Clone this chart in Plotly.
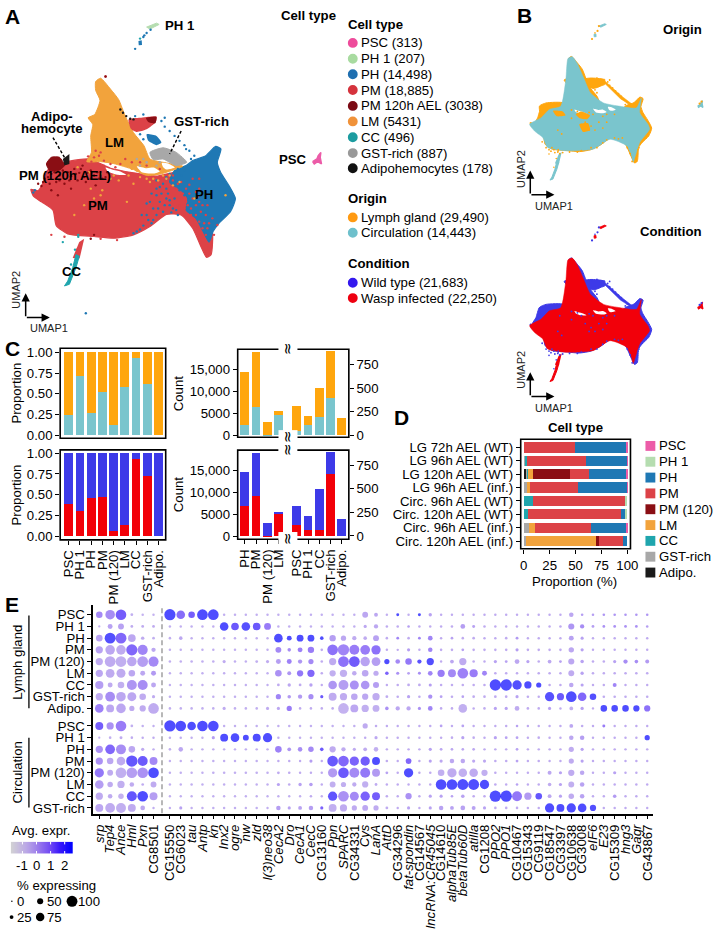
import plotly.graph_objects as go
import numpy as np

W, H = 722, 933
FONT = "Liberation Sans"

# ---------- Panel A/B : UMAP outlines (UMAP units x100) ----------
PM_OUT = [(88,562),(110,566),(128,535),(138,505),(200,478),(265,470),(330,498),(400,512),(470,522),(540,510),(600,590),(640,690),(636,760),(622,768),(605,735),(580,680),(545,640),(500,638),(450,675),(400,700),(340,710),(280,705),(200,697),(165,672),(155,625),(120,600),(95,582)]
PH_OUT = [(525,505),(560,490),(580,475),(620,460),(650,432),(666,440),(655,480),(665,510),(690,550),(710,590),(695,630),(660,665),(642,690),(630,722),(612,690),(590,650),(560,625),(565,590),(545,565),(510,540)]
LM_OUT = [(300,225),(285,235),(285,262),(298,292),(282,335),(262,345),(276,365),(270,400),(272,450),(258,478),(300,478),(340,484),(400,502),(440,520),(480,516),(525,502),(550,492),(500,482),(450,470),(432,430),(400,390),(375,340),(355,290),(330,258)]
HOLE_1 = [(410,492),(440,498),(462,496),(480,508),(462,514),(425,510)]
HOLE_2 = [(486,482),(505,484),(526,496),(500,502),(490,494)]
HOLE_3 = [(315,496),(335,502),(360,508),(378,518),(350,518),(322,508)]
UPPER_OUT = [(385,350),(420,345),(470,342),(468,358),(440,380),(410,388),(392,378)]
UPPER_DK = [(438,346),(470,342),(466,362),(445,358)]
BRANCH_OUT = [(440,395),(470,400),(485,420),(470,428),(445,415)]
PM120_OUT = [(135,485),(150,465),(175,465),(190,490),(172,505),(145,505)]
GST_OUT = [(450,450),(490,436),(530,450),(562,480),(530,490),(490,470),(460,472)]
ADIPO_OUT = [(185,470),(205,455),(205,485),(190,490)]
CCRED_OUT = [(215,770),(235,722),(250,712),(236,772)]
CC_OUT = [(190,855),(200,840),(215,800),(225,760),(235,765),(225,800),(205,850)]
PH1_OUT = [(440,70),(470,58),(478,62),(450,76)]
PH1B_OUT = [(415,112),(425,110),(426,124),(416,125)]
PSC_OUT = [(945,478),(958,470),(962,460),(970,450),(968,465),(972,485),(960,478),(950,485)]
CORE_OUT = [(86,571),(145,537),(187,495),(245,479),(271,344),(282,235),(304,226),(329,260),(363,336),(397,411),(464,462),(548,479),(632,487),(657,437),(649,512),(691,571),(699,596),(649,663),(615,764),(607,731),(582,680),(497,647),(413,697),(279,706),(178,689),(153,638),(111,605)]
BAND_B = [(368,340),(400,335),(462,342),(472,366),(430,380),(395,380)]
TAIL_B = [(470,350),(560,430),(612,470),(606,476),(550,440),(470,362)]
BLOB_B = [(136,478),(170,462),(260,462),(262,500),(190,520),(145,530)]
LEFT_COND = [(100,560),(118,530),(136,478),(170,480),(150,540)]
PATCH_1 = [(322,520),(350,506),(395,526),(380,545),(342,540)]
PATCH_2 = [(340,570),(385,565),(395,600),(360,610)]
PATCH_3 = [(205,502),(255,505),(270,525),(225,530)]

SP_RED = [(530,560),(545,590),(510,560),(560,600),(575,620),(590,640),(600,660),(610,680),(585,655),(620,700),(555,620),(540,610),(620,640),(580,590),(600,560),(250,480),(262,462),(272,478),(310,490),(360,485),(345,495),(420,480),(470,525),(520,520),(150,700),(190,706),(300,712),(350,716),(238,738),(228,745),(315,220),(600,600),(560,560),
          (570,575),(590,610),(605,630),(615,665),(625,680),(575,640),(565,610),(550,575),(535,545),(595,585),(610,610),(630,665),(640,650),(595,675),(606,700),(628,740),(645,700),(655,670),(520,535),(545,540),(570,548),(590,570),(625,610),(580,530),(600,530),(280,465),(295,460),(310,475),(330,485),(375,470),(300,450),(285,445),(395,480),(440,490),(480,500)]
SP_BLUE = [(460,620),(480,600),(500,590),(470,580),(450,600),(520,620),(490,630),(510,610),(530,625),(440,640),(430,672),(420,684),(460,655),(500,560),(480,555),(520,545),(405,340),(430,335),(485,355),(495,372),(510,385),(525,400),(540,415),(555,428),(570,445),(585,460),(560,440),(575,470),(495,345),(420,395),(430,410),(255,938),(100,565),(95,572),(405,136),(433,95),(440,88),(430,100),(452,78),
           (490,545),(505,575),(525,590),(535,640),(515,632),(470,640),(455,665),(445,655),(475,620),(495,610),(510,595),(485,575),(470,560),(455,575),(440,605),(425,640),(540,565),(530,540),(500,530),(515,525),(470,535),(555,580),(400,695),(410,690),(500,525),(545,520),(555,505),(510,515),(535,500)]
SP_LM = [(250,610),(270,560),(300,580),(380,600),(500,530),(520,550),(680,580),(585,590),(340,520),(410,505),(460,530),(395,500),(440,530),(220,640),(330,530),(355,535),(385,520),(420,525),(400,545),(450,540),(475,535),(540,540),(265,510),(300,515),(230,495),(490,520),(510,520),(305,565),(280,590)]
SP_DK = [(150,515),(175,520),(200,510),(225,515),(250,525),(280,520),(305,530),(320,510),(165,540),(130,530),(110,545),(190,545),(240,500),(270,505),(210,560),(150,565),(170,580),(285,550),(315,220),(280,700),(270,712),
         (160,510),(185,505),(210,522),(235,512),(260,512),(290,510),(295,530),(175,535),(205,535),(230,535),(255,540),(140,525),(125,540),(120,552),(315,525),(270,530),(145,545),(220,500),(245,490)]
SP_BLACK = [(360,320),(368,330),(378,340),(390,348),(400,350)]
SP_GST = [(420,490),(440,480),(520,470),(410,470),(470,490),(480,480),(430,470)]
SP_TEAL = [(185,722),(232,706),(222,745),(210,790),(232,700),(420,105)]

# Panel B speckles
SP_B_IN = [(300,498),(330,505),(350,520),(390,510),(410,520),(240,520),(460,530),(400,580),(420,600),(440,560),(370,560),(390,600),(300,540),(460,590),(480,560),(230,600),(250,620),(200,690),(210,700),(230,712),(240,720),(255,715),(330,712),(430,690),(520,640),(560,640),(640,700),(660,660),(690,620),(480,520),(520,520),
           (150,660),(170,690),(185,700),(195,708),(215,715),(290,712),(350,705),(400,690),(460,665),(480,650),(540,645),(585,690),(600,720),(610,760),(630,745),(645,690),(680,640),(700,610)]

# ---------- Panel C ----------
C_TYPES = ["PSC", "PH 1", "PH", "PM", "PM (120)", "LM", "CC", "GST-rich", "Adipo."]
PROP_CIRC = [0.24, 0.71, 0.27, 0.52, 0.12, 0.585, 0.93, 0.62, 0.0]
PROP_LG = [0.76, 0.29, 0.73, 0.48, 0.88, 0.415, 0.07, 0.38, 1.0]
PROP_WASP = [0.385, 0.30, 0.465, 0.475, 0.06, 0.135, 0.935, 0.73, 0.0]
PROP_WT = [0.615, 0.70, 0.535, 0.525, 0.94, 0.865, 0.065, 0.27, 1.0]
CL_TYPES = ["PH", "PM", "PM (120)", "LM"]
CR_TYPES = ["PSC", "PH 1", "CC", "GST-rich", "Adipo."]
CL_CIRC = [2240, 6430, 100, 4650]
CL_LG = [12258, 12455, 2938, 781]
CL_WASP = [6800, 9040, 100, 5080]
CL_WT = [7698, 9845, 2938, 351]
CR_CIRC = [42, 105, 197, 390, 0]
CR_LG = [271, 102, 299, 497, 178]
CR_WASP = [119, 63, 67, 654, 0]
CR_WT = [194, 144, 429, 233, 178]

# ---------- Panel D ----------
D_ROWS = ["LG 72h AEL (WT)", "LG 96h AEL (WT)", "LG 120h AEL (WT)", "LG 96h AEL (inf.)", "Circ. 96h AEL (WT)", "Circ. 120h AEL (WT)", "Circ. 96h AEL (inf.)", "Circ. 120h AEL (inf.)"]
D_ADIPO = [0, 0, 2.5, 0, 0, 0, 0, 0]
D_GST = [0.5, 1.5, 1, 3, 0, 0, 5, 2]
D_CC = [0, 2, 1, 0, 9, 4.5, 0, 0]
D_LM = [0, 0, 4.5, 3.5, 0, 0, 6, 68]
D_PM120 = [0, 0, 36, 0, 0, 0, 0, 3]
D_PM = [49, 56.5, 18, 45.5, 88.5, 89.5, 54, 23]
D_PH = [49, 39.5, 36, 47.5, 0, 4, 34, 4]
D_PH1 = [0, 0.2, 0, 0, 2.5, 2, 0, 0]
D_PSC = [1.5, 0.3, 1, 0.5, 0, 0, 1, 0]

# ---------- Panel E ----------
GENES_A = ["srp", "Tep4", "Ance", "Hml", "Pxn", "CG8501"]
GENES_B = ["CG15550","CG6023","tau","Antp","kn","Inx2","ogre","nw","zld","l(3)neo38","CecA2","Dro","CecA1","CecC","CG13160","Ppn","SPARC","CG34331","Cys","LanA","AttD","CG34296","fat-spondin","CG14567","lncRNA:CR45045","CG14610","alphaTub85E","betaTub60D","atilla","CG1208","PPO2","PPO1","CG10467","CG15343","CG9119","CG18547","CG3397","CG10638","CG3008","eIF6","E23","CG15309","hng3","Gagr","CG43867"]
ROWS_E = ["PSC","PH 1","PH","PM","PM (120)","LM","CC","GST-rich","Adipo.","PSC","PH 1","PH","PM","PM (120)","LM","CC","GST-rich"]

P_LG_PSC = [47,78,89,8,5,5, 95,68,47,90,90,5,5,5,5,5, 5,5,5,5,5,5,5,5,40,19, 5,9,5,10,14,5,5,5,5,5, 5,5,5,5,5,5,5,26,6,6, 6,6,6,6,6]
E_LG_PSC = [.7,.6,1.6,-.2,-.3,-.3, 2.5,1.3,1.6,2.5,2.5,-.2,-.2,-.2,-.2,-.2, -.2,-.2,-.2,-.2,-.2,-.2,-.2,-.2,0,0, -.2,2.5,-.2,2.5,.1,-.1,-.1,-.1,-.1,-.1, -.1,-.1,-.1,-.1,-.1,-.1,-.1,0,.2,.2, .4,.4,.4,.4,.4]
P_LG_PH1 = [3,30,40,8,8,8, 5,5,5,5,5,68,58,68,58,50, 5,5,5,5,5,5,5,5,12,24, 6,6,6,5,5,5,6,28,9,6, 5,5,5,5,5,5,6,42,24,8, 8,8,8,8,6]
E_LG_PH1 = [-.3,.1,.1,-.1,-.1,-.1, -.2,-.2,-.2,-.2,-.2,2.5,1.8,2.3,1.8,1, -.2,-.2,-.2,-.2,-.2,-.2,-.2,-.2,0,0, -.1,-.1,.2,-.1,-.1,-.1,-.1,.2,.1,-.1, -.1,-.1,-.1,-.1,-.1,-.1,-.1,.4,.6,.2, .5,.5,.5,.5,.2]
P_LG_PH = [47,92,92,58,15,7, 6,16,5,5,5,5,5,5,5,5, 68,30,50,50,16,45,33,24,16,40, 6,8,6,8,28,5,7,6,7,5, 5,6,9,5,5,5,5,30,12,5, 5,5,5,5,5]
E_LG_PH = [.1,2.4,1.4,0,-.1,-.2, -.2,0,-.2,-.2,-.2,-.2,-.2,-.2,-.2,-.2, 2.5,2.5,2.5,2.5,2.5,.2,0,-.1,-.1,.1, -.1,.8,-.1,.8,.8,-.1,.1,-.1,-.1,-.1, -.1,-.1,.3,-.1,-.1,-.1,-.1,.1,.1,-.1, -.1,-.1,-.1,-.1,-.1]
P_LG_PM = [54,78,78,95,84,24, 5,5,5,5,5,5,5,5,5,5, 40,16,30,45,6,89,96,82,80,75, 5,4,12,5,26,6,6,8,6,6, 6,6,12,6,6,6,6,35,12,5, 5,5,5,5,5]
E_LG_PM = [.1,0,-.1,1.4,.8,0, -.2,-.2,-.2,-.2,-.2,-.2,-.2,-.2,-.2,-.2, .7,.6,.9,1,-.1,1.2,.8,1,1,1.2, -.1,-.1,.2,-.1,.8,-.1,-.1,.1,-.1,-.1, -.1,-.1,.2,-.1,-.1,-.1,-.1,0,.1,-.1, -.1,-.1,-.1,-.1,-.1]
P_LG_PM120 = [54,90,90,78,90,84, 6,6,6,6,6,12,6,5,8,12, 30,30,24,33,6,54,90,90,76,70, 33,27,47,24,54,4,18,54,6,5, 12,8,28,12,6,18,8,42,15,6, 6,12,24,17,20]
E_LG_PM120 = [-.1,-.1,-.2,0,.2,.7, -.2,-.2,-.2,-.2,-.2,-.1,-.2,-.2,-.2,-.1, .2,.9,.4,.7,-.1,-.1,1.2,1.7,.1,.2, 2.5,.7,1.1,2.2,2.4,-.1,0,-.1,-.1,-.1, .1,.1,0,.1,-.1,0,.1,0,.1,-.1, -.1,.1,.6,.6,.3]
P_LG_LM = [54,70,72,47,30,30, 5,5,5,5,5,5,5,5,5,5, 47,20,44,54,6,44,54,26,47,33, 16,12,8,10,28,54,61,89,64,30, 6,6,6,6,6,6,6,40,14,6, 6,6,6,6,6]
E_LG_LM = [0,-.1,-.1,0,0,.3, -.2,-.2,-.2,-.2,-.2,-.2,-.2,-.2,-.2,-.2, .5,.4,1.1,1.4,-.1,-.2,-.2,-.1,0,-.1, 1.5,.5,.1,.6,.8,1,.7,.9,1,.8, -.1,-.1,-.1,-.1,-.1,-.1,-.1,-.1,.1,-.1, -.1,-.1,-.1,-.1,-.1]
P_LG_CC = [64,30,47,82,82,30, 5,5,5,5,5,5,5,5,5,5, 8,14,8,14,5,68,82,72,68,42, 5,6,8,8,12,6,6,6,6,6, 96,96,76,54,33,6,6,26,12,5, 5,20,5,5,5]
E_LG_CC = [.2,-.1,-.2,.4,.6,0, -.2,-.2,-.2,-.2,-.2,-.2,-.2,-.2,-.2,-.2, -.1,0,-.1,.1,-.1,.4,.2,.5,.4,.2, -.1,-.1,-.1,-.1,.2,-.1,-.1,-.1,-.1,-.1, 2.5,2.5,2.4,2.5,2.5,-.1,-.1,0,.1,-.1, -.1,.8,-.1,-.1,-.1]
P_LG_GST = [54,80,78,72,47,12, 5,5,5,5,5,5,5,5,5,5, 33,16,24,33,12,61,54,47,44,54, 8,6,12,6,24,8,6,7,7,7, 7,7,12,6,5,75,54,89,68,47, 6,6,6,6,6]
E_LG_GST = [-.1,.6,0,0,-.1,-.1, -.2,-.2,-.2,-.2,-.2,-.2,-.2,-.2,-.2,-.2, .8,.3,.3,.6,1.8,-.1,-.1,0,0,-.1, -.1,-.1,.1,-.1,.5,.1,-.1,.1,-.1,-.1, -.1,-.1,.1,-.1,-.1,2.3,1.8,2.5,1.4,2.4, -.1,-.1,-.1,-.1,-.1]
P_LG_ADIPO = [68,61,78,33,44,89, 6,6,6,6,6,12,6,6,6,12, 12,33,6,6,6,6,89,61,54,50, 16,24,24,12,28,6,6,68,5,6, 12,12,28,7,6,12,5,18,14,4, 47,47,47,44,44]
E_LG_ADIPO = [.9,0,0,-.1,-.1,-.1, -.2,-.2,-.2,-.2,-.2,-.1,-.2,-.2,-.2,-.1, 0,1,-.1,-.1,-.1,-.1,-.3,0,-.2,-.2, .5,0,0,.5,.8,-.1,-.1,-.2,-.1,-.1, .1,.1,-.1,-.1,-.1,.1,-.1,-.2,.1,-.1, 2.5,2.5,2.5,2.5,1.2]
P_C_PSC = [61,54,89,7,5,5, 96,89,68,89,89,5,5,5,5,5, 5,5,5,5,5,5,5,5,33,6, 5,5,5,5,5,8,5,8,5,5, 5,5,6,5,5,5,5,19,6,5, 10,5,5,5,5]
E_C_PSC = [1.6,.5,1,-.2,-.2,-.2, 2.5,2.5,2.5,2.5,2.5,-.2,-.2,-.2,-.2,-.2, -.2,-.2,-.2,-.2,-.2,-.2,-.2,-.2,-.1,-.1, -.1,-.1,-.1,-.1,-.1,.1,-.1,.1,-.1,-.1, -.1,-.1,.1,-.1,-.1,-.1,-.1,0,-.1,-.1, 1,-.1,-.1,-.1,-.1]
P_C_PH1 = [2,6,10,6,5,5, 5,5,5,5,12,61,68,40,61,75, 5,5,5,5,5,5,5,5,5,12, 5,5,5,5,5,5,6,12,6,5, 12,8,8,5,6,5,5,26,26,5, 5,5,5,5,33]
E_C_PH1 = [-.3,-.2,-.1,-.1,-.1,-.1, -.2,-.2,-.2,-.2,.2,2.5,2.5,2.5,2.5,2.5, -.2,-.2,-.2,-.2,-.2,-.2,-.2,-.2,-.1,0, -.1,-.1,-.1,-.1,-.1,-.1,-.1,.1,-.1,-.1, .1,.1,.1,-.1,-.1,-.1,-.1,0,.2,-.1, -.1,-.1,-.1,-.1,2.5]
P_C_PH = [54,80,82,47,12,5, 6,26,5,5,5,5,5,5,5,5, 47,18,26,36,16,44,24,12,18,26, 5,5,5,5,12,8,7,7,7,5, 5,5,7,5,5,5,5,33,12,5, 5,5,5,5,5]
E_C_PH = [.5,1.4,.6,0,-.1,-.2, -.2,0,-.2,-.2,-.2,-.2,-.2,-.2,-.2,-.2, .9,.4,.6,.7,1.8,-.1,-.1,-.1,-.1,-.2, -.1,-.1,-.1,-.1,.1,0,0,0,0,-.1, -.1,-.1,.1,-.1,-.1,-.1,-.1,-.1,.1,-.1, -.1,-.1,-.1,-.1,-.1]
P_C_PM = [54,47,68,96,82,61, 5,5,5,5,5,5,5,5,5,5, 5,5,5,12,5,89,89,75,75,61, 6,5,40,5,12,12,26,26,12,12, 6,6,8,5,6,5,5,33,12,5, 5,5,5,5,5]
E_C_PM = [.5,0,-.1,2,1.8,.7, -.2,-.2,-.2,-.2,-.2,-.2,-.2,-.2,-.2,-.2, -.1,-.1,-.1,.2,-.1,1.9,1.4,1.5,1.7,2.5, -.1,-.1,1.4,-.1,.1,0,0,0,0,0, -.1,-.1,.1,-.1,-.1,-.1,-.1,-.1,.1,-.1, -.1,-.1,-.1,-.1,-.1]
P_C_PM120 = [75,40,89,89,89,89, 5,5,5,5,6,6,6,6,6,6, 8,6,5,5,5,75,89,82,82,61, 8,5,75,5,6,47,75,68,68,44, 6,5,5,5,5,20,12,44,26,5, 5,12,5,5,5]
E_C_PM120 = [1.1,-.1,-.2,.2,.5,2.5, -.2,-.2,-.2,-.2,-.2,-.2,-.2,-.2,-.2,-.2, -.1,-.1,-.1,-.1,-.1,.3,1.8,.7,1.1,.3, .1,-.1,2.5,-.1,-.1,-.2,-.1,-.2,-.1,-.2, -.1,-.1,-.1,-.1,-.1,0,.1,-.1,0,-.1, -.1,.1,-.1,-.1,-.1]
P_C_LM = [68,36,54,26,7,40, 5,5,5,5,5,5,5,5,5,5, 12,6,14,16,5,40,33,24,44,8, 5,5,5,5,5,89,89,92,92,75, 6,5,6,5,5,16,12,40,26,5, 5,5,5,5,5]
E_C_LM = [.2,-.1,-.2,-.1,-.1,-.1, -.2,-.2,-.2,-.2,-.2,-.2,-.2,-.2,-.2,-.2, .1,-.1,.1,.2,-.1,-.2,-.2,-.1,-.2,-.1, -.1,-.1,-.1,-.1,-.1,2.5,2.5,2.5,2.5,2.5, -.1,-.1,.1,-.1,-.1,-.1,.1,-.2,.1,-.1, -.1,-.1,-.1,-.1,-.1]
P_C_CC = [54,26,36,82,89,61, 4,4,4,4,4,4,4,4,4,4, 4,4,4,6,4,75,89,72,75,61, 6,5,44,5,12,12,6,16,6,6, 96,96,82,54,47,19,12,36,26,5, 5,16,5,5,5]
E_C_CC = [-.1,-.1,-.3,2,2.5,.2, -.2,-.2,-.2,-.2,-.2,-.2,-.2,-.2,-.2,-.2, -.2,-.2,-.2,-.1,-.2,2.1,.5,.7,1.5,1.6, -.1,-.1,.5,-.1,.1,.1,.1,.1,-.1,-.1, 2.5,2.5,1.1,.3,2,0,.1,-.1,.1,-.1, -.1,.3,-.1,-.1,-.1]
P_C_GST = [61,80,82,61,28,5, 5,12,5,5,5,5,5,5,5,5, 26,12,19,26,12,61,54,33,40,33, 8,5,12,5,12,26,19,28,20,12, 6,6,6,5,5,75,61,75,68,44, 5,5,5,5,5]
E_C_GST = [0,-.1,-.2,-.1,0,-.2, -.2,.1,-.2,-.2,-.2,-.2,-.2,-.2,-.2,-.2, .2,.1,.1,.2,1.5,-.2,-.1,-.1,0,-.1, -.1,-.1,.1,-.1,.1,.1,.1,.1,.1,.1, -.1,-.1,-.1,-.1,-.1,2.5,2.5,2.5,2.5,2.4, -.1,-.1,-.1,-.1,-.1]

PCT_ROWS = [P_LG_PSC,P_LG_PH1,P_LG_PH,P_LG_PM,P_LG_PM120,P_LG_LM,P_LG_CC,P_LG_GST,P_LG_ADIPO,P_C_PSC,P_C_PH1,P_C_PH,P_C_PM,P_C_PM120,P_C_LM,P_C_CC,P_C_GST]
EXP_ROWS = [E_LG_PSC,E_LG_PH1,E_LG_PH,E_LG_PM,E_LG_PM120,E_LG_LM,E_LG_CC,E_LG_GST,E_LG_ADIPO,E_C_PSC,E_C_PH1,E_C_PH,E_C_PM,E_C_PM120,E_C_LM,E_C_CC,E_C_GST]

# ---------- Legends ----------
CELL_LEG = ["PSC (313)", "PH 1 (207)", "PH (14,498)", "PM (18,885)", "PM 120h AEL (3038)", "LM (5431)", "CC (496)", "GST-rich (887)", "Adipohemocytes (178)"]
ORIGIN_LEG = ["Lymph gland (29,490)", "Circulation (14,443)"]
COND_LEG = ["Wild type (21,683)", "Wasp infected (22,250)"]
D_LEG = ["PSC", "PH 1", "PH", "PM", "PM (120)", "LM", "CC", "GST-rich", "Adipo."]

# colours
PSC_C, PH1_C, PH_C, PM_C, PM120_C, LM_C, CC_C, GST_C, AD_C = "#EC5CA8", "#B5DDB0", "#1F78B4", "#DC4247", "#8A0E14", "#F2A33C", "#1FA5AD", "#A8A8A8", "#1A1A1A"
ORANGE, TEAL, BLUE, RED = "#FFA60D", "#7AC5CD", "#3D3AE8", "#F20008"
LEG_COLS = ["#EE4B9B", "#A8DBA0", "#1F6FB0", "#D5333D", "#7B0A14", "#F0923A", "#1C9CA0", "#999999", "#111111"]
EXPR_SCALE = [[0, "#D3D3D3"], [.25, "#BBA8E6"], [.39, "#A488EA"], [.5, "#8D6AEE"], [.64, "#6E46F4"], [.78, "#3A18FA"], [1, "#0000FF"]]

# ---------- helpers ----------
def px(x): return x / W
def py(y): return 1 - y / H
def dx(a, b): return [a / W, b / W]
def dy(a, b): return [1 - b / H, 1 - a / H]

fig = go.Figure()
annots, shapes, layout = [], [], {}

def txt(x, y, s, size=13.2, bold=False, anchor="left", angle=0, color="#000"):
    if bold: s = f"<b>{s}</b>"
    annots.append(dict(x=px(x), y=py(y), xref="paper", yref="paper", text=s, showarrow=False, xanchor=anchor, yanchor="middle",
                       textangle=angle, font=dict(size=size, color=color, family=FONT), borderpad=0, borderwidth=0))

def circle(x, y, d, c):
    shapes.append(dict(type="circle", xref="paper", yref="paper", x0=px(x-d/2), x1=px(x+d/2), y0=py(y+d/2), y1=py(y-d/2), fillcolor=c, line=dict(width=0)))

def rect(x0, y0, x1, y1, fill="rgba(0,0,0,0)", lw=1.6, lc="#000"):
    shapes.append(dict(type="rect", xref="paper", yref="paper", x0=px(x0), x1=px(x1), y0=py(y1), y1=py(y0), fillcolor=fill, line=dict(width=lw, color=lc), layer="above"))

def arrow(x0, y0, x1, y1):
    annots.append(dict(x=px(x1), y=py(y1), xref="paper", yref="paper", axref="pixel", ayref="pixel", ax=x0-x1, ay=y0-y1, text="", showarrow=True,
                       arrowhead=2, arrowsize=1.1, arrowwidth=1.5, arrowcolor="#000", standoff=0))

def poly(pts, c, xa, ya, line=0, smooth=False):
    ln = dict(color=c, width=line)
    if smooth:
        ln.update(shape="spline", smoothing=0.55)
    fig.add_trace(go.Scatter(x=[p[0] for p in pts]+[pts[0][0]], y=[p[1] for p in pts]+[pts[0][1]], mode="lines", fill="toself", fillcolor=c,
                             line=ln, xaxis=xa, yaxis=ya, hoverinfo="skip", showlegend=False))

def dots(pts, c, xa, ya, s=2.4):
    fig.add_trace(go.Scatter(x=[p[0] for p in pts], y=[p[1] for p in pts], mode="markers", marker=dict(size=s, color=c, line=dict(width=0)),
                             xaxis=xa, yaxis=ya, hoverinfo="skip", showlegend=False))

def axis(dom, rng, anchor, **kw):
    d = dict(domain=dom, range=rng, anchor=anchor, showgrid=False, zeroline=False, showline=False, ticks="", showticklabels=False,
             tickfont=dict(size=13.2, family=FONT, color="#000"), tickcolor="#000", ticklen=4, tickwidth=1.3, linecolor="#000", linewidth=1.6)
    d.update(kw)
    return d

def umap_axes(n, x0, y0, scale):
    s = "" if n == 1 else str(n)
    layout[f"xaxis{s}"] = axis(dx(x0, x0+340*scale), [0, 1020], f"y{s}", visible=False)
    layout[f"yaxis{s}"] = axis(dy(y0, y0+320*scale), [960, 0], f"x{s}", visible=False)
    return f"x{s}", f"y{s}"

# ---------- A ----------
xa, ya = umap_axes(1, 0, 0, 1)
poly(PM_OUT, PM_C, xa, ya, 1.2, True)
poly(PH_OUT, PH_C, xa, ya, 1.2, True)
poly(LM_OUT, LM_C, xa, ya, 1, True)
for h in (HOLE_1, HOLE_2, HOLE_3):
    poly(h, "#FFFFFF", xa, ya, 0, True)
poly(UPPER_OUT, PM_C, xa, ya, 0, True)
poly(UPPER_DK, PM120_C, xa, ya, 0, True)
poly(BRANCH_OUT, PH_C, xa, ya, 0, True)
poly(CCRED_OUT, PM_C, xa, ya)
poly(PM120_OUT, PM120_C, xa, ya, 1, True)
poly(GST_OUT, GST_C, xa, ya, 1, True)
poly(ADIPO_OUT, AD_C, xa, ya)
poly(CC_OUT, CC_C, xa, ya, 1)
poly(PH1_OUT, PH1_C, xa, ya, 1)
poly(PH1B_OUT, PH_C, xa, ya)
poly(PSC_OUT, PSC_C, xa, ya, 1.5)
dots(SP_RED, PM_C, xa, ya); dots(SP_BLUE, PH_C, xa, ya); dots(SP_LM, LM_C, xa, ya)
dots(SP_DK, PM120_C, xa, ya); dots(SP_BLACK, AD_C, xa, ya); dots(SP_GST, GST_C, xa, ya); dots(SP_TEAL, CC_C, xa, ya)
for a, b in (((155,405),(190,465)), ((545,385),(510,455))):
    fig.add_trace(go.Scatter(x=[a[0], b[0]], y=[a[1], b[1]], mode="lines", line=dict(color="#000", width=1.4, dash="3px,2px"), xaxis=xa, yaxis=ya, hoverinfo="skip", showlegend=False))

# ---------- B ----------
def umap_b(n, y0, core, fringe, extra, inner):
    xb, yb = umap_axes(n, 518, y0, 0.595)
    for p in (PM_OUT, PH_OUT, LM_OUT, UPPER_OUT, BAND_B, BLOB_B) + extra:
        poly(p, fringe, xb, yb, 1.0, True)
    poly(TAIL_B, fringe, xb, yb, 0.6)
    poly(CORE_OUT, core, xb, yb, 0.5, True)
    for h in (HOLE_1, HOLE_2, HOLE_3):
        poly(h, "#FFFFFF", xb, yb, 0, True)
    for p in inner:
        poly(p, fringe, xb, yb, 0, True)
    poly(CC_OUT, core, xb, yb, 1); poly(CCRED_OUT, core, xb, yb)
    poly(PH1_OUT, core, xb, yb, 0.8); poly(PH1B_OUT, core, xb, yb, 0.8); poly(PSC_OUT, core, xb, yb, 1.2)
    dots(SP_B_IN + SP_BLUE[16:31], fringe, xb, yb, 1.8)
    dots(SP_TEAL, fringe, xb, yb, 1.6)
    dots([(955,465),(965,455),(440,70),(405,136),(433,95)], fringe, xb, yb, 2.2)
umap_b(2, 8.4, TEAL, ORANGE, (), (PATCH_1, PATCH_2, PATCH_3))
umap_b(3, 212, "#F2000A", BLUE, (LEFT_COND,), ())

# ---------- C ----------
def bars(xa_, ya_, x, lo, hi, clo, chi):
    fig.add_trace(go.Bar(x=x, y=lo, marker=dict(color=clo, line=dict(width=0)), width=0.78, xaxis=xa_, yaxis=ya_, showlegend=False, hoverinfo="skip"))
    fig.add_trace(go.Bar(x=x, y=hi, marker=dict(color=chi, line=dict(width=0)), width=0.78, xaxis=xa_, yaxis=ya_, showlegend=False, hoverinfo="skip"))

PT = [0, .25, .5, .75, 1]; PL = ["0.00", "0.25", "0.50", "0.75", "1.00"]
idx9 = list(range(9)); idx4 = list(range(4)); idx5 = list(range(5))
CT = ["0", "5000", "10,000", "15,000"]; CV = [0, 5000, 10000, 15000]
RV = [0, 250, 500, 750]; RT = ["0", "250", "500", "750"]

def ylab(vals, labs, side="left"):
    return dict(tickvals=vals, ticktext=labs, ticks="outside", showticklabels=True, side=side, ticklen=4)

xrange_ = [-0.76, 8.64]
layout["xaxis4"] = axis(dx(59, 166), xrange_, "y4")
layout["yaxis4"] = axis(dy(348, 439), [-0.0357, 1.0476], "x4", **ylab(PT, PL))
layout["xaxis5"] = axis(dx(59, 166), xrange_, "y5", tickvals=idx9, ticktext=C_TYPES, ticks="outside", showticklabels=True, tickangle=-90)
layout["yaxis5"] = axis(dy(450.7, 541.7), [-0.044, 1.04], "x5", **ylab(PT, PL))
bars("x4", "y4", idx9, PROP_CIRC, PROP_LG, TEAL, ORANGE)
bars("x5", "y5", idx9, PROP_WASP, PROP_WT, RED, BLUE)

LX, RX = [-0.64, 3.81], [-0.816, 4.62]
layout["xaxis6"] = axis(dx(239, 289.7), LX, "y6")
layout["yaxis6"] = axis(dy(349, 438), [-450, 19568], "x6", **ylab(CV, CT))
layout["xaxis7"] = axis(dx(289.7, 351.7), RX, "y7")
layout["yaxis7"] = axis(dy(349, 438), [-21, 910], "x7", **ylab(RV, RT, "right"))
layout["xaxis8"] = axis(dx(239, 289.7), LX, "y8", tickvals=idx4, ticktext=CL_TYPES, ticks="outside", showticklabels=True, tickangle=-90)
layout["yaxis8"] = axis(dy(451, 541), [-675, 19568], "x8", **ylab(CV, CT))
layout["xaxis9"] = axis(dx(289.7, 351.7), RX, "y9", tickvals=idx5, ticktext=CR_TYPES, ticks="outside", showticklabels=True, tickangle=-90)
layout["yaxis9"] = axis(dy(451, 541), [-34.5, 907], "x9", **ylab(RV, RT, "right"))
bars("x6", "y6", idx4, CL_CIRC, CL_LG, TEAL, ORANGE)
bars("x7", "y7", idx5, CR_CIRC, CR_LG, TEAL, ORANGE)
bars("x8", "y8", idx4, CL_WASP, CL_WT, RED, BLUE)
bars("x9", "y9", idx5, CR_WASP, CR_WT, RED, BLUE)

for box in ((59, 348, 166, 439), (59, 450.7, 166, 541.7), (239, 349, 351.7, 438), (239, 451, 351.7, 541)):
    rect(*box)
for y in (349, 438, 451, 541):
    annots.append(dict(x=px(289.7), y=py(y), xref="paper", yref="paper", text="≈", textangle=90, showarrow=False, bgcolor="#FFFFFF",
                       font=dict(size=15, family="DejaVu Sans", color="#000"), borderpad=0))

# ---------- D ----------
rows_idx = list(range(8))
for vals, col in ((D_ADIPO, AD_C), (D_GST, GST_C), (D_CC, CC_C), (D_LM, LM_C), (D_PM120, PM120_C), (D_PM, PM_C), (D_PH, PH_C), (D_PH1, PH1_C), (D_PSC, PSC_C)):
    fig.add_trace(go.Bar(y=rows_idx, x=vals, orientation="h", marker=dict(color=col, line=dict(width=0)), width=0.76, xaxis="x10", yaxis="y10", showlegend=False, hoverinfo="skip"))
layout["xaxis10"] = axis(dx(526, 637.3), [-2.9, 103], "y10", tickvals=[0, 25, 50, 75, 100], ticks="outside", showticklabels=True)
layout["yaxis10"] = axis(dy(440, 550.7), [7.58, -0.61], "x10", tickvals=rows_idx, ticktext=D_ROWS, ticks="outside", showticklabels=True)
rect(526, 440, 637.3, 550.7)

# ---------- E ----------
x_pos = list(range(6)) + [6.51 + i for i in range(45)]
y_pos = list(range(9)) + [9.5 + i for i in range(8)]
GENE_ALL = GENES_A + GENES_B
xs, ys, ss, cs = [], [], [], []
for r, (P, E) in enumerate(zip(PCT_ROWS, EXP_ROWS)):
    assert len(P) == 51 and len(E) == 51, (r, len(P), len(E))
    xs += x_pos; ys += [y_pos[r]] * 51
    ss += [2.0 + 0.097 * p for p in P]; cs += E
fig.add_trace(go.Scatter(x=xs, y=ys, mode="markers", xaxis="x11", yaxis="y11", showlegend=False, hoverinfo="skip",
    marker=dict(size=ss, color=cs, cmin=-1.82, cmax=2.57, line=dict(width=0), colorscale=EXPR_SCALE, showscale=False)))
def gene_label(g):
    return g if g.startswith("CG") and g[2:].isdigit() else f"<i>{g}</i>"
layout["xaxis11"] = axis(dx(92.5, 660), [-0.56, 51.03], "y11", tickvals=x_pos, ticktext=[gene_label(g) for g in GENE_ALL], ticks="outside", showticklabels=True, tickangle=-90, showline=True, ticklen=4)
layout["yaxis11"] = axis(dy(608, 818.3), [16.98, -0.79], "x11", tickvals=y_pos, ticktext=ROWS_E, ticks="outside", showticklabels=True, showline=True, ticklen=4)
shapes.append(dict(type="line", xref="x11", yref="paper", x0=5.78, x1=5.78, y0=py(818), y1=py(608), line=dict(color="#A0A0A0", width=1.5, dash="5px,3px")))
for x, y0, y1 in ((27.3, 618, 712), (27.3, 741.7, 812.3)):
    shapes.append(dict(type="line", xref="paper", yref="paper", x0=px(x), x1=px(x), y0=py(y0), y1=py(y1), line=dict(color="#000", width=1.3)))
txt(16, 665, "Lymph gland", angle=-90, anchor="center")
txt(16, 777, "Circulation", angle=-90, anchor="center")

# colour key for Avg. expr.
key_vals = np.linspace(-1.82, 2.57, 64)
fig.add_trace(go.Heatmap(x=key_vals, y=[0], z=[key_vals], colorscale=EXPR_SCALE, zmin=-1.82, zmax=2.57, showscale=False, xaxis="x12", yaxis="y12", hoverinfo="skip"))
layout["xaxis12"] = axis(dx(9, 71.7), [-1.82, 2.57], "y12", visible=False)
layout["yaxis12"] = axis(dy(846.7, 859), [-0.5, 0.5], "x12", visible=False)
for v, lab in ((-1, "-1"), (0, "0"), (1, "1"), (2, "2")):
    shapes.append(dict(type="line", xref="x12", yref="paper", x0=v, x1=v, y0=py(846.7), y1=py(849.5), line=dict(color="#FFF", width=1), layer="above"))
    shapes.append(dict(type="line", xref="x12", yref="paper", x0=v, x1=v, y0=py(856.2), y1=py(859), line=dict(color="#FFF", width=1), layer="above"))
    txt(9 + (v + 1.82) * 14.28, 870.5, lab, anchor="center")

# ---------- text & legends ----------
for s, x, y, a in (("A", 3, 13, "left"), ("B", 522, 12, "left"), ("C", 3, 348, "left"), ("D", 397, 418, "left"), ("E", 3, 607, "left")):
    txt(x, y, s, size=21, bold=True, anchor=a)
txt(165, 22, "PH 1", bold=True)
for s, x, y in (("PSC", 295, 157), ("Adipo-", 51, 113.5), ("hemocyte", 51, 125.5), ("GST-rich", 202, 119), ("LM", 114, 140), ("PM (120h AEL)", 64, 173), ("PM", 97, 204), ("PH", 205, 193), ("CC", 71, 270)):
    txt(x, y, s, bold=True, anchor="center")
txt(283, 12, "Cell type", bold=True)
txt(709.5, 26, "Origin", bold=True, anchor="right")
txt(709.5, 230, "Condition", bold=True, anchor="right")

txt(351, 20.7, "Cell type", bold=True)
for s, c, y in zip(CELL_LEG, LEG_COLS, (39.3, 55.3, 71, 87, 103, 118.7, 134.7, 150.7, 166)):
    circle(355.7, y, 10, c); txt(364.3, y, s)
txt(351, 196.7, "Origin", bold=True)
for s, c, y in zip(ORIGIN_LEG, ("#FF9A12", "#6EC0CC"), (215.7, 231.3)):
    circle(355.7, y, 10, c); txt(364.3, y, s)
txt(351, 262.7, "Condition", bold=True)
for s, c, y in zip(COND_LEG, ("#3318EE", "#EE0010"), (281.7, 297.3)):
    circle(355.7, y, 10, c); txt(364.3, y, s)

# UMAP arrows and labels
for cx, cy in ((24, 317), (535.7, 192.7), (535.7, 396.7)):
    arrow(cx, cy, cx, cy-24.5); arrow(cx, cy, cx+24.5, cy)
UC = "#222222"
txt(14, 289, "UMAP2", size=11, anchor="center", angle=-90, color=UC)
txt(48, 328, "UMAP1", size=11, anchor="center", color=UC)
txt(526, 167, "UMAP2", size=11, anchor="center", angle=-90, color=UC)
txt(560, 204, "UMAP1", size=11, anchor="center", color=UC)
txt(526, 370, "UMAP2", size=11, anchor="center", angle=-90, color=UC)
txt(560, 408, "UMAP1", size=11, anchor="center", color=UC)

txt(15, 393, "Proportion", anchor="center", angle=-90)
txt(15, 496, "Proportion", anchor="center", angle=-90)
txt(179, 394, "Count", anchor="center", angle=-90)
txt(179, 496, "Count", anchor="center", angle=-90)

txt(581.7, 428, "Cell type", bold=True, anchor="center")
txt(581, 584, "Proportion (%)", anchor="center")
for s, c, i in zip(D_LEG, (PSC_C, PH1_C, PH_C, PM_C, PM120_C, LM_C, CC_C, GST_C, AD_C), range(9)):
    y = 446.7 + 16 * i
    shapes.append(dict(type="rect", xref="paper", yref="paper", x0=px(652.5), x1=px(662.5), y0=py(y+5), y1=py(y-5), fillcolor=c, line=dict(width=0)))
    txt(666, y, s)

txt(10, 835.7, "Avg. expr.")
txt(15, 891, "% expressing")
for d, x, y, s, tx in ((1.5, 10, 907, "0", 15), (6.2, 38.7, 907, "50", 46), (11, 71, 907, "100", 77), (3.9, 9.7, 923, "25", 15), (8.6, 38.7, 923, "75", 46)):
    circle(x, y, d, "#000"); txt(tx, y, s)

fig.update_layout(width=W, height=H, autosize=False, margin=dict(l=0, r=0, t=0, b=0, pad=0), paper_bgcolor="#FFFFFF", plot_bgcolor="rgba(0,0,0,0)",
                  barmode="stack", annotations=annots, shapes=shapes, font=dict(family=FONT, size=13.2), **layout)
fig.write_html("out.html", config={"displayModeBar": False}, post_script="document.body.style.margin='0';document.documentElement.style.overflow='hidden';")
